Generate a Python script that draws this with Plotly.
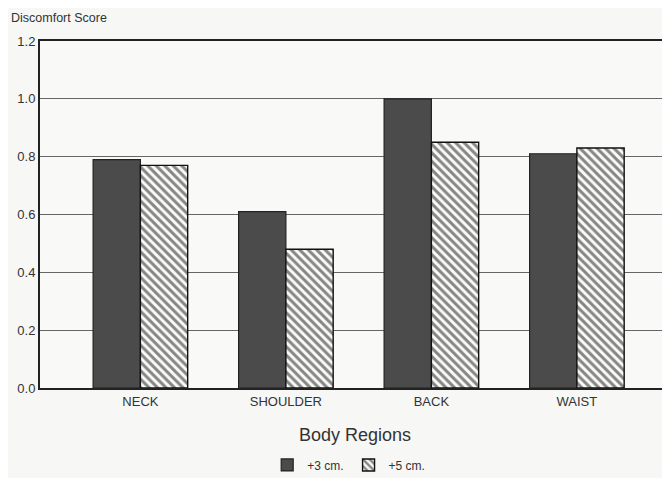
import plotly.graph_objects as go

regions = ["NECK", "SHOULDER", "BACK", "WAIST"]
plus3 = [0.79, 0.61, 1.00, 0.81]
plus5 = [0.77, 0.48, 0.85, 0.83]
series_names = ["+3 cm.", "+5 cm."]
y_ticks = [0.0, 0.2, 0.4, 0.6, 0.8, 1.0, 1.2]

xpos = list(range(len(regions)))
font_family = "Liberation Sans, Arial, sans-serif"

fig = go.Figure()
fig.add_trace(go.Bar(
    x=xpos, y=plus3, name=series_names[0],
    marker=dict(color="#4b4b4b", line=dict(color="#222", width=1.2)),
))
fig.add_trace(go.Bar(
    x=xpos, y=plus5, name=series_names[1],
    marker=dict(color="#fafaf8", line=dict(color="#111", width=1.4),
                pattern=dict(shape="\\", size=6, solidity=0.5, fgcolor="#111", bgcolor="#fafaf8")),
))

fig.update_layout(
    width=670, height=478,
    barmode="group", bargap=0.35, bargroupgap=0,
    paper_bgcolor="#f7f7f5", plot_bgcolor="#f9f9f7",
    margin=dict(l=32, r=6, t=33, b=88),
    font=dict(family=font_family, color="#333", size=12),
    showlegend=True,
    legend=dict(orientation="h", x=0.49, xanchor="center", y=-0.18, yanchor="top",
                bgcolor="rgba(0,0,0,0)", font=dict(size=12, color="#333"),
                itemwidth=30, traceorder="normal"),
    annotations=[dict(text="Discomfort Score", xref="paper", yref="paper",
                      x=-0.05, y=1.04, xanchor="left", yanchor="bottom",
                      showarrow=False, font=dict(size=12.5, color="#333"))],
)
fig.update_xaxes(
    range=[-0.69, 3.64], tickvals=xpos, ticktext=regions,
    showgrid=False, showline=True, linecolor="#222", linewidth=2, mirror=True,
    ticks="", tickfont=dict(size=13, color="#333"),
    title=dict(text="Body Regions", font=dict(size=18, color="#333"), standoff=21),
)
fig.update_yaxes(
    range=[0, 1.2], tickvals=y_ticks, tickformat=".1f",
    showgrid=True, gridcolor="#666", gridwidth=1, griddash="solid",
    showline=True, linecolor="#222", linewidth=2, mirror=True,
    ticks="", zeroline=False, tickfont=dict(size=13, color="#333"),
)

fig.write_html("out.html")
